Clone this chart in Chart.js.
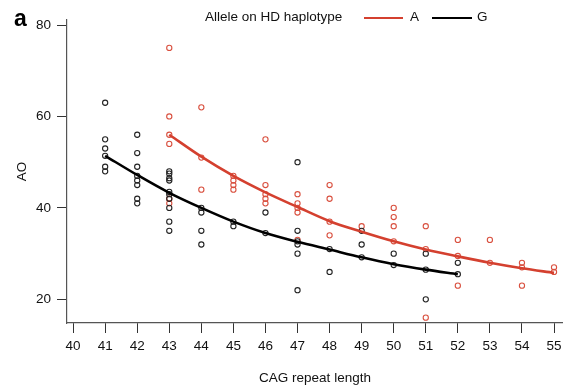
<!DOCTYPE html>
<html>
<head>
<meta charset="utf-8">
<script src="https://cdn.jsdelivr.net/npm/chart.js@4.4.1/dist/chart.umd.min.js"></script>
<style>
  body { margin: 0; background: #fff; font-family: "Liberation Sans", Arial, sans-serif; }
  #wrap { position: relative; width: 563px; height: 387px; }
  #panel { position: absolute; left: 14px; top: 6px; font-size: 23px; font-weight: bold; color: #000; line-height: 25px; }
  #legend { position: absolute; left: 0; top: 0; width: 563px; height: 30px; font-size: 13.5px; color: #111; }
  #legend span { position: absolute; white-space: nowrap; }
  #legend .txt { top: 9px; line-height: 16px; }
  #legend .swatch { top: 17px; height: 1.6px; }
</style>
</head>
<body>
<div id="wrap">
  <canvas id="aoChart" width="563" height="387"></canvas>
  <div id="panel">a</div>
  <div id="legend"></div>
</div>
<script>
// sumbu
const cagTicks = [40, 41, 42, 43, 44, 45, 46, 47, 48, 49, 50, 51, 52, 53, 54, 55];
const aoTicks = [20, 40, 60, 80];
const legendTitle = 'Allele on HD haplotype';
const alleles = ['A', 'G'];

// titik pengamatan: [CAG, [AO...]]
const obsA = [
  [43, [75, 60, 56, 54, 42, 41]],
  [44, [62, 51, 44]],
  [45, [47, 46, 45, 44]],
  [46, [55, 45, 43, 42, 41]],
  [47, [43, 41, 40, 39, 33]],
  [48, [45, 42, 37, 34]],
  [49, [36]],
  [50, [40, 38, 36, 32.7]],
  [51, [36, 31, 16]],
  [52, [33, 29.5, 23]],
  [53, [33, 28]],
  [54, [28, 27, 23]],
  [55, [27, 26]]
];
const obsG = [
  [41, [63, 55, 53, 51.4, 49, 48]],
  [42, [56, 52, 49, 47, 46, 45, 42, 41]],
  [43, [48, 47.5, 46.5, 46, 43.5, 43, 42, 40, 37, 35]],
  [44, [40, 39, 35, 32]],
  [45, [37, 36]],
  [46, [39, 34.5]],
  [47, [50, 35, 32.7, 32, 30, 22]],
  [48, [31, 26]],
  [49, [35, 32, 29.2]],
  [50, [30, 27.5]],
  [51, [30, 26.5, 20]],
  [52, [28, 25.5]]
];

// kurva fit
const fitCagA = [43, 44, 45, 46, 47, 48, 49, 50, 51, 52, 53, 54, 55];
const fitA = [56, 51.2, 47, 43.4, 40.2, 37.1, 34.8, 32.7, 30.9, 29.4, 28, 26.8, 25.8];
const fitCagG = [41, 42, 43, 44, 45, 46, 47, 48, 49, 50, 51, 52];
const fitG = [51.4, 47.2, 43.3, 40, 37, 34.5, 32.6, 30.9, 29.2, 27.7, 26.5, 25.5];

const RED = '#d4402f';
const RED_PT = '#d9503f';
const BLACK = '#000000';

function toPoints(obs) {
  const out = [];
  obs.forEach(([cag, list]) => list.forEach(v => out.push({ x: cag, y: v })));
  return out;
}
function toLine(xs, ys) {
  return xs.map((x, i) => ({ x: x, y: ys[i] }));
}

// legenda HTML (posisi manual)
const legend = document.getElementById('legend');
const swatchX = [364, 432];
const swatchW = [39, 40];
const labelX = [410, 477];
legend.innerHTML = `<span class="txt" style="left:205px">${legendTitle}</span>` +
  alleles.map((a, i) => `
    <span class="swatch" style="left:${swatchX[i]}px;width:${swatchW[i]}px;background:${i === 0 ? RED : BLACK}"></span>
    <span class="txt" style="left:${labelX[i]}px">${a}</span>
  `).join('');

Chart.defaults.font.family = '"Liberation Sans", Arial, sans-serif';
Chart.defaults.font.size = 13.5;
Chart.defaults.color = '#111';

const ctx = document.getElementById('aoChart').getContext('2d');
const aoChart = new Chart(ctx, {
  type: 'scatter',
  data: {
    datasets: [
      {
        label: 'A fit',
        data: toLine(fitCagA, fitA),
        showLine: true,
        borderColor: RED,
        borderWidth: 2.6,
        pointRadius: 0,
        cubicInterpolationMode: 'monotone',
        order: 0
      },
      {
        label: 'G fit',
        data: toLine(fitCagG, fitG),
        showLine: true,
        borderColor: BLACK,
        borderWidth: 2.6,
        pointRadius: 0,
        cubicInterpolationMode: 'monotone',
        order: 0
      },
      {
        label: 'A',
        data: toPoints(obsA),
        pointStyle: 'circle',
        pointRadius: 2.6,
        borderWidth: 1.1,
        borderColor: RED_PT,
        backgroundColor: 'rgba(0,0,0,0)',
        order: 2
      },
      {
        label: 'G',
        data: toPoints(obsG),
        pointStyle: 'circle',
        pointRadius: 2.6,
        borderWidth: 1.1,
        borderColor: '#222',
        backgroundColor: 'rgba(0,0,0,0)',
        order: 1
      }
    ]
  },
  options: {
    responsive: false,
    animation: false,
    devicePixelRatio: 1,
    layout: { autoPadding: false, padding: { top: 20, right: 0, left: 0, bottom: 0 } },
    plugins: {
      legend: { display: false },
      tooltip: { enabled: false }
    },
    scales: {
      x: {
        type: 'linear',
        min: 39.81,
        max: 55.28,
        afterBuildTicks: s => { s.ticks = cagTicks.map(v => ({ value: v })); },
        afterFit: s => { s.height = 64; s.paddingLeft = 0; s.paddingRight = 0; },
        grid: { drawOnChartArea: false, drawTicks: true, tickLength: 10, color: '#333' },
        border: { color: '#555', width: 1.2 },
        ticks: { padding: 5, autoSkip: false, maxRotation: 0, color: '#111' },
        title: { display: true, text: 'CAG repeat length', padding: { top: 0, bottom: 1 }, color: '#111' }
      },
      y: {
        type: 'linear',
        min: 14.83,
        max: 81.1,
        afterBuildTicks: s => { s.ticks = aoTicks.map(v => ({ value: v })); },
        afterFit: s => { s.width = 67; s.paddingTop = 0; s.paddingBottom = 0; },
        grid: { drawOnChartArea: false, drawTicks: true, tickLength: 10, color: '#333' },
        border: { color: '#555', width: 1.2 },
        ticks: { padding: 6, color: '#111' },
        title: { display: true, text: 'AO', padding: { top: 14, bottom: 0 }, color: '#111' }
      }
    }
  }
});
</script>
</body>
</html>
